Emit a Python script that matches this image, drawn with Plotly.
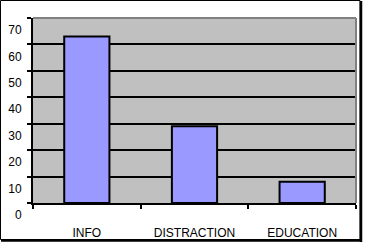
import plotly.graph_objects as go

categories = ["INFO", "DISTRACTION", "EDUCATION"]
values = [63, 29, 8]
y_ticks = [0, 10, 20, 30, 40, 50, 60, 70]

W, H = 365, 242
L, R, T, B = 33, 9, 18, 39
pw, ph = W - L - R, H - T - B

def px(x):
    return (x - L) / pw

def py(y):
    return (H - B - y) / ph

fig = go.Figure(go.Bar(
    x=categories, y=values, width=0.42,
    marker=dict(color="#9999FF", line=dict(color="black", width=2)),
))

font = dict(family="Liberation Sans, Arial, sans-serif", size=12, color="black")

fig.update_layout(
    width=W, height=H, margin=dict(l=L, r=R, t=T, b=B, autoexpand=False),
    paper_bgcolor="white", plot_bgcolor="#C0C0C0",
    showlegend=False, font=font, bargap=0.58,
    xaxis=dict(showline=True, linecolor="black", linewidth=2, ticks="outside",
               tickson="boundaries", ticklen=4, tickwidth=1.5, tickcolor="black",
               showgrid=False, ticklabelstandoff=18, tickfont=font, automargin=False),
    yaxis=dict(range=[0, 70], tickvals=y_ticks, showline=True, linecolor="black",
               linewidth=2, ticks="outside", ticklen=4, tickwidth=1.5, tickcolor="black",
               showgrid=True, gridcolor="black", gridwidth=2, zeroline=False,
               ticklabelshift=12, ticklabelstandoff=3, tickfont=font, automargin=False),
    shapes=[
        dict(type="line", xref="paper", yref="paper", x0=0, x1=1, y0=1, y1=1,
             line=dict(color="#808080", width=2), layer="above"),
        dict(type="line", xref="paper", yref="paper", x0=1, x1=1, y0=0, y1=1,
             line=dict(color="#808080", width=2), layer="above"),
        dict(type="rect", xref="paper", yref="paper", x0=px(0.5), x1=px(360), y0=py(0.5), y1=py(239.5),
             line=dict(color="black", width=1), layer="above"),
        dict(type="line", xref="paper", yref="paper", x0=px(361), x1=px(361), y0=py(1), y1=py(242),
             line=dict(color="black", width=2.5), layer="above"),
        dict(type="line", xref="paper", yref="paper", x0=px(1), x1=px(362), y0=py(240.5), y1=py(240.5),
             line=dict(color="black", width=2.5), layer="above"),
    ],
)

fig.write_html("out.html")
